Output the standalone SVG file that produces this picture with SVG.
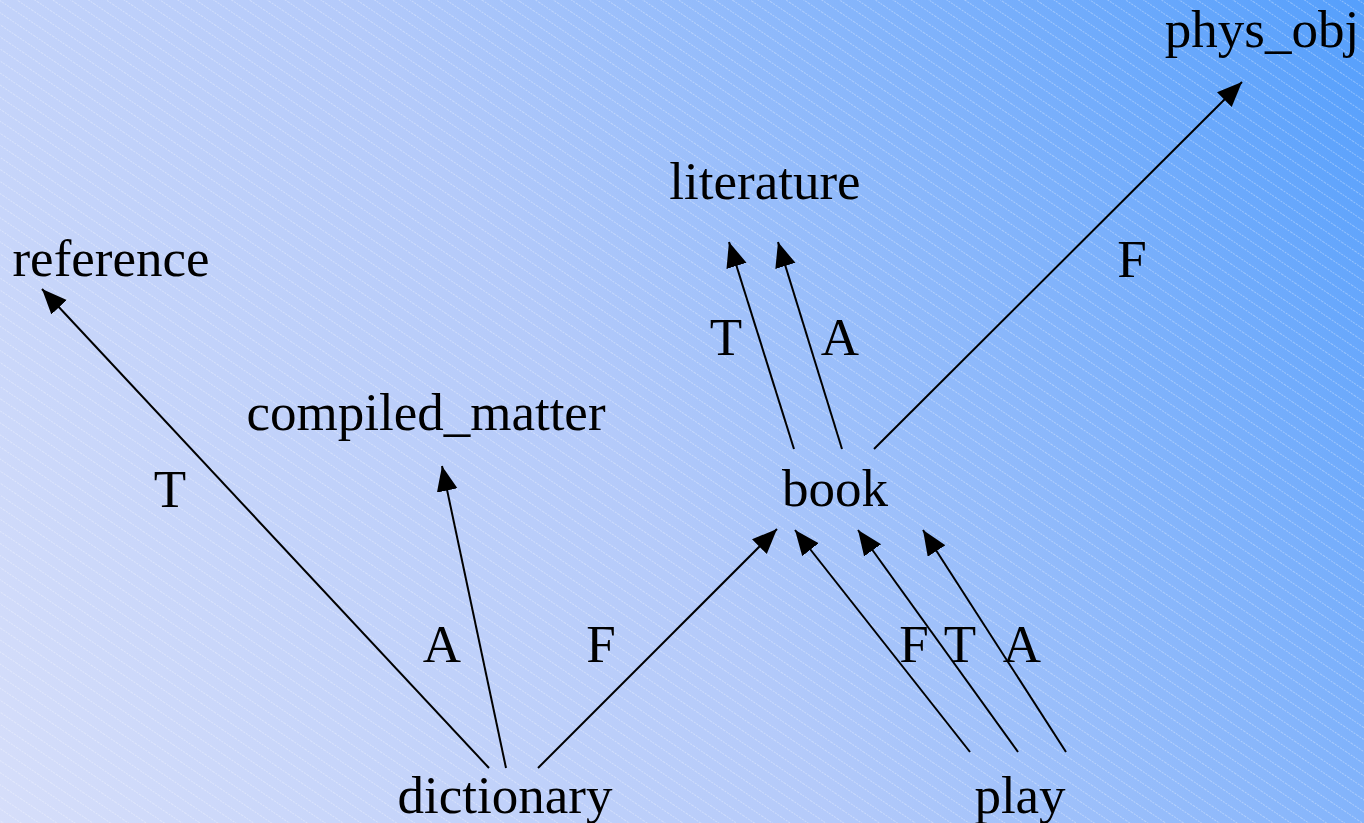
<svg xmlns="http://www.w3.org/2000/svg" width="1364" height="823" viewBox="0 0 1364 823">
<defs>
<linearGradient id="bg" x1="0" y1="823" x2="1364" y2="0" gradientUnits="userSpaceOnUse">
<stop offset="0" stop-color="#d6defa"/>
<stop offset="0.45" stop-color="#b4cafa"/>
<stop offset="1" stop-color="#559ffc"/>
</linearGradient>
<pattern id="hatch" width="16" height="10" patternUnits="userSpaceOnUse" patternTransform="rotate(34)">
<line x1="0" y1="0.5" x2="16" y2="0.5" stroke="#ffffff" stroke-opacity="0.4" stroke-width="0.8" stroke-dasharray="2 1"/>
</pattern>
<marker id="ah" markerUnits="userSpaceOnUse" markerWidth="28" markerHeight="24" refX="25" refY="10.5" orient="auto">
<path d="M0,0 L25,10.5 L0,21 Z" fill="#000"/>
</marker>
<style>
.n{font-family:"Liberation Serif","Times New Roman",serif;font-size:53px;fill:#000;text-anchor:middle}
.l{font-family:"Liberation Serif","Times New Roman",serif;font-size:53px;fill:#000;text-anchor:middle}
.e{stroke:#000;stroke-width:2;fill:none;marker-end:url(#ah)}
</style>
</defs>
<rect width="1364" height="823" fill="url(#bg)"/>
<rect width="1364" height="823" fill="url(#hatch)"/>
<g id="connectors">
<line class="e" x1="489" y1="768" x2="42" y2="289"/>
<line class="e" x1="506" y1="768" x2="442" y2="466"/>
<line class="e" x1="538" y1="768" x2="777" y2="529"/>
<line class="e" x1="794" y1="449" x2="729" y2="242"/>
<line class="e" x1="842" y1="449" x2="778" y2="242"/>
<line class="e" x1="874" y1="449" x2="1242" y2="82"/>
<line class="e" x1="970" y1="752" x2="795" y2="530"/>
<line class="e" x1="1018" y1="752" x2="858" y2="530"/>
<line class="e" x1="1066" y1="752" x2="923" y2="530"/>
<text class="l" x="170" y="507">T</text>
<text class="l" x="442" y="662">A</text>
<text class="l" x="601" y="662">F</text>
<text class="l" x="726" y="355">T</text>
<text class="l" x="840" y="355">A</text>
<text class="l" x="1132" y="277">F</text>
<text class="l" x="914" y="662">F</text>
<text class="l" x="960" y="662">T</text>
<text class="l" x="1022" y="662">A</text>
</g>
<g id="reference"><text class="n" x="111" y="276">reference</text></g>
<g id="literature"><text class="n" x="765" y="199">literature</text></g>
<g id="phys_obj"><text class="n" x="1262" y="47">phys_obj</text></g>
<g id="compiled_matter"><text class="n" x="426" y="430">compiled_matter</text></g>
<g id="book"><text class="n" x="835" y="506">book</text></g>
<g id="dictionary"><text class="n" x="505" y="813">dictionary</text></g>
<g id="play"><text class="n" x="1020" y="813">play</text></g>
</svg>
